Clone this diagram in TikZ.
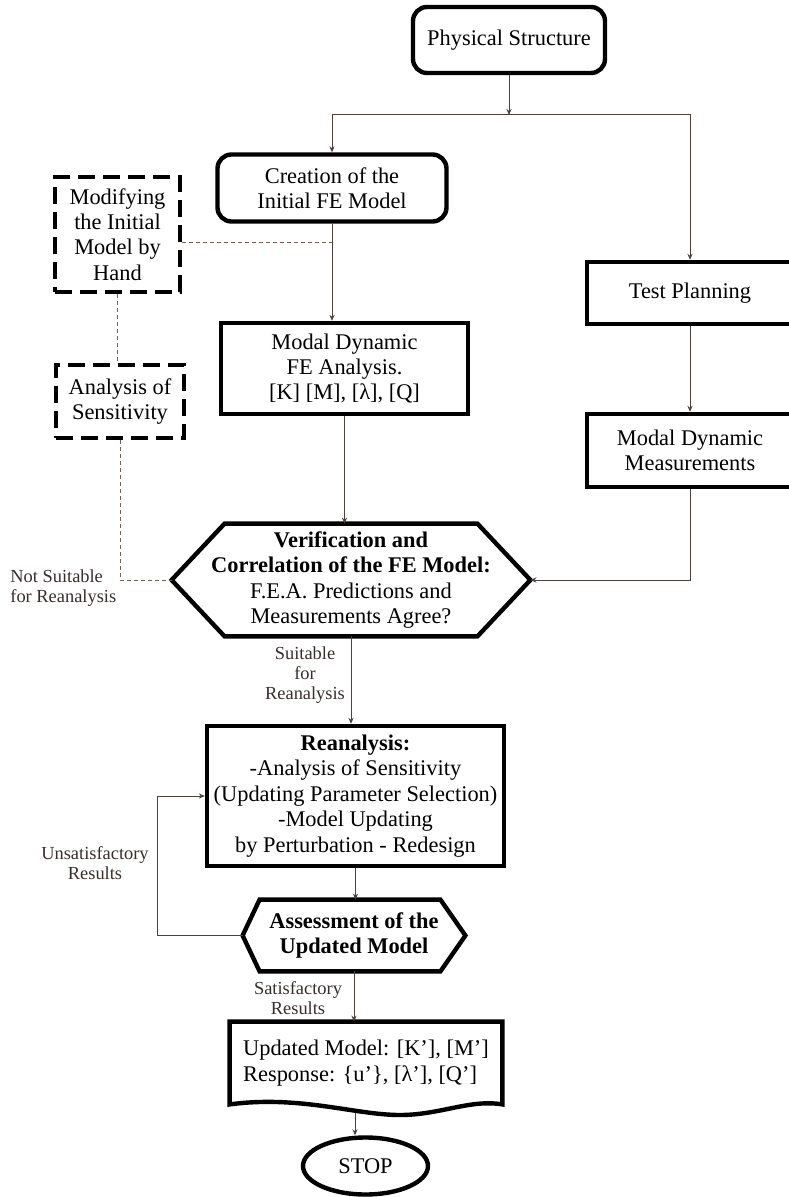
\documentclass[tikz,border=0pt]{standalone}
\usepackage{fontspec}
\setmainfont{Liberation Serif}
\usepackage{xcolor}
\usetikzlibrary{arrows.meta,shapes.geometric}

\definecolor{linecol}{RGB}{78,64,62}
\definecolor{dashcol}{RGB}{125,92,88}
\definecolor{lblcol}{RGB}{55,46,44}

\tikzset{
  box/.style={draw, line width=2.2pt, align=center, inner sep=1pt},
  roundbox/.style={box, rounded corners=7pt},
  dashbox/.style={box, dash pattern=on 8.5pt off 4pt},
  hexbox/.style={align=center, inner sep=1pt},
  hexline/.style={draw, line width=2.2pt, line join=miter},
  link/.style={draw=linecol, line width=0.5pt},
  arr/.style={link, -{Stealth[length=3pt,width=2.6pt]}},
  dlink/.style={draw=dashcol, line width=0.5pt, dash pattern=on 2pt off 1.5pt},
  lbl/.style={font=\fontsize{9.2}{10.2}\selectfont, align=center, text=lblcol}
}

\begin{document}
\begin{tikzpicture}[x=0.5pt, y=-0.5pt, font=\fontsize{11.2}{12.7}\selectfont]
    \useasboundingbox (0,0) rectangle (788,1197);
    \node[roundbox, minimum width=96pt, minimum height=33pt] (phys) at (509,40) {Physical Structure};
    \coordinate (split) at (509,115);
    \node[roundbox, minimum width=114.5pt, minimum height=33.5pt] (create) at (332,188) {Creation of the\\Initial FE Model};
    \node[dashbox, minimum width=62.5pt, minimum height=57.5pt] (modify) at (117.5,234.5) {Modifying\\the Initial\\Model by\\Hand};
    \node[box, minimum width=123.5pt, minimum height=45.5pt] (fea) at (344.5,368.5) {Modal Dynamic\\FE Analysis.\\{[K] [M], [λ], [Q]}};
    \node[dashbox, minimum width=64pt, minimum height=36.5pt] (sens) at (120,401.5) {Analysis of\\Sensitivity};
    \node[box, minimum width=103pt, minimum height=31pt] (plan) at (690,293) {Test Planning};
    \node[box, minimum width=103pt, minimum height=36.5pt] (meas) at (690,450.5) {Modal Dynamic\\Measurements};
    \node[hexbox, minimum width=179pt, minimum height=56pt] (verif) at (351,580)
        {\textbf{Verification and}\\\textbf{Correlation of the FE Model:}\\F.E.A. Predictions and\\Measurements Agree?};
    \draw[hexline] (verif.west) -- ([xshift=26.5pt]verif.north west) -- ([xshift=-26.5pt]verif.north east)
        -- (verif.east) -- ([xshift=-26.5pt]verif.south east) -- ([xshift=26.5pt]verif.south west) -- cycle;
    \node[box, minimum width=148.5pt, minimum height=70pt] (rean) at (355.5,796)
        {\textbf{Reanalysis:}\\-Analysis of Sensitivity\\(Updating Parameter Selection)\\-Model Updating\\by Perturbation - Redesign};
    \node[hexbox, font=\fontsize{11.2}{12.9}\selectfont\bfseries, minimum width=111pt, minimum height=35.5pt] (assess) at (354,935.5)
        {Assessment of the\\Updated Model};
    \draw[hexline] (assess.west) -- ([xshift=8.5pt]assess.north west) -- ([xshift=-12.5pt]assess.north east)
        -- (assess.east) -- ([xshift=-12.5pt]assess.south east) -- ([xshift=8.5pt]assess.south west) -- cycle;
    \node[align=left, inner sep=1pt, minimum width=136pt, minimum height=41pt] (doc) at (366,1063)
        {Updated Model: [K'], [M']\\Response: \{u'\}, [λ'], [Q']};
    \draw[hexline] (doc.south west) -- (doc.north west) -- (doc.north east) -- (doc.south east)
        .. controls (470,1099) and (440,1115) .. (400,1115) .. controls (355,1115) and (300,1095) .. cycle;
    \coordinate (docb) at (355,1113);
    \node[ellipse, draw, line width=2.2pt, minimum width=62.5pt, minimum height=28.5pt, inner sep=0pt] (stop) at (365.5,1166) {STOP};

    \draw[arr] (phys) -- (split);
    \draw[arr] (split) -| (create.north);
    \draw[arr] (split) -| (plan.north);
    \draw[arr] (create.south) -- (create.south |- fea.north);
    \draw[arr] (plan) -- (meas);
    \draw[arr] (fea.south) -- (fea.south |- verif.north);
    \draw[arr] (meas.south) |- (verif.east);
    \draw[arr] (verif.south) -- (verif.south |- rean.north);
    \draw[arr] (rean.south) -- (rean.south |- assess.north);
    \coordinate (ucorner) at (157,935.5);
    \draw[arr] (assess.west) -- (ucorner) |- (rean.west);
    \draw[arr] (assess.south) -- (assess.south |- doc.north);
    \draw[arr] (docb) -- (docb |- stop.north);

    \draw[dlink] ([yshift=-4.25pt]modify.east) -- ([yshift=-4.25pt]modify.east -| create.south);
    \draw[dlink] (modify.south) -- (modify.south |- sens.north);
    \draw[dlink] (sens.south) |- (verif.west);

    \node[lbl, align=left, anchor=west, inner sep=1pt] (nsuit) at (8,588) {Not Suitable\\for Reanalysis};
    \node[lbl] (suit) at (305,675) {Suitable\\for\\Reanalysis};
    \node[lbl] (unsat) at (95,863) {Unsatisfactory\\Results};
    \node[lbl] (sat) at (298,998) {Satisfactory\\Results};
\end{tikzpicture}
\end{document}
